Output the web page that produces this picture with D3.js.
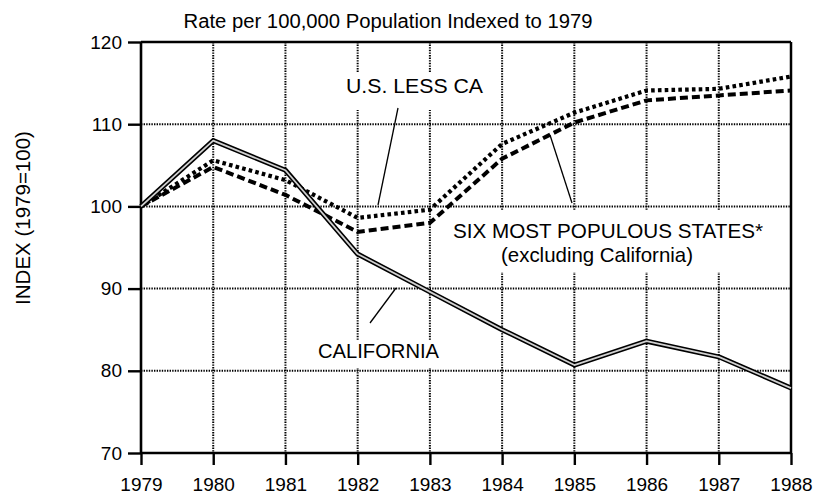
<!DOCTYPE html>
<html>
<head>
<meta charset="utf-8">
<script src="https://cdn.jsdelivr.net/npm/d3@7"></script>
<style>
  html, body { margin: 0; padding: 0; background: #fff; }
  svg { display: block; font-family: "Liberation Sans", Arial, Helvetica, sans-serif; }
</style>
</head>
<body>
<svg id="chart" width="817" height="494"></svg>
<script>
// ---- data ----
const years = [1979, 1980, 1981, 1982, 1983, 1984, 1985, 1986, 1987, 1988];
const california = [100, 108.0, 104.4, 94.2, 89.6, 85.0, 80.7, 83.6, 81.7, 77.9];
const usLessCA = [100, 105.6, 103.2, 98.6, 99.6, 107.6, 111.4, 114.1, 114.3, 115.8];
const sixStates = [100, 104.8, 101.4, 96.9, 98.0, 105.8, 110.2, 112.9, 113.5, 114.1];
const yTicks = [70, 80, 90, 100, 110, 120];
const titleText = "Rate per 100,000 Population Indexed to 1979";
const yTitleText = "INDEX (1979=100)";

(function () {
const svg = d3.select("#chart");
const pL = 141, pR = 791, pT = 42, pB = 453;
const x = d3.scaleLinear().domain([1979, 1988]).range([pL, pR]);
const y = d3.scaleLinear().domain([70, 120]).range([pB, pT]);

// grid
const grid = svg.append("g").attr("stroke", "#000").attr("stroke-width", 2)
  .attr("stroke-dasharray", "1.4,1.2");
grid.selectAll("line.v").data(years.slice(1, -1)).join("line").attr("class", "v")
  .attr("x1", d => x(d)).attr("x2", d => x(d)).attr("y1", pT).attr("y2", pB);
grid.selectAll("line.h").data(yTicks.slice(1, -1)).join("line").attr("class", "h")
  .attr("x1", pL).attr("x2", pR).attr("y1", d => y(d)).attr("y2", d => y(d));

// white boxes behind labels (interrupt grid)
const boxes = [
  [340, 72, 150, 38],
  [440, 210, 335, 62],
  [312, 340, 133, 28]
];
svg.append("g").selectAll("rect").data(boxes).join("rect")
  .attr("x", d => d[0]).attr("y", d => d[1]).attr("width", d => d[2]).attr("height", d => d[3])
  .attr("fill", "#fff");

// frame
const frame = svg.append("g").attr("stroke", "#000").attr("fill", "none");
frame.append("line").attr("x1", pL).attr("x2", pR).attr("y1", pT).attr("y2", pT).attr("stroke-width", 2.5);
frame.append("line").attr("x1", pR).attr("x2", pR).attr("y1", pT).attr("y2", pB).attr("stroke-width", 2.5);

// axes
const yAxis = d3.axisLeft(y).tickValues(yTicks).tickSize(13).tickPadding(6).tickFormat(d3.format("d"));
const gy = svg.append("g").attr("transform", `translate(${pL},0)`).call(yAxis);
const xAxis = d3.axisBottom(x).tickValues(years).tickSize(12).tickPadding(13).tickFormat(d3.format("d"));
const gx = svg.append("g").attr("transform", `translate(0,${pB})`).call(xAxis);
[gx, gy].forEach(g => {
  g.select(".domain").attr("stroke", "#000").attr("stroke-width", 2.6);
  g.selectAll(".tick line").attr("stroke", "#000").attr("stroke-width", 2.4);
  g.selectAll(".tick text").attr("fill", "#000").attr("font-size", 19)
    .attr("font-family", "'Liberation Sans', Arial, Helvetica, sans-serif");
});
gx.select(".domain").attr("d", `M${pL},0H${pR}`);
gy.select(".domain").attr("d", `M0,${pT}V${pB}`);

// lines
const line = d3.line().x((d, i) => x(years[i])).y(d => y(d));
svg.append("path").datum(sixStates).attr("d", line)
  .attr("fill", "none").attr("stroke", "#000").attr("stroke-width", 4)
  .attr("stroke-dasharray", "8,4");
svg.append("path").datum(usLessCA).attr("d", line)
  .attr("fill", "none").attr("stroke", "#000").attr("stroke-width", 4.2)
  .attr("stroke-dasharray", "3.6,3.2");
svg.append("path").datum(california).attr("d", line)
  .attr("fill", "none").attr("stroke", "#000").attr("stroke-width", 5).attr("stroke-linejoin", "round");
svg.append("path").datum(california).attr("d", line)
  .attr("fill", "none").attr("stroke", "#d0d0d0").attr("stroke-width", 1.8).attr("stroke-linejoin", "round");

// leader lines
const leaders = [
  [398, 108, 378, 205],
  [550, 135, 572, 203],
  [396, 288, 370, 323]
];
svg.append("g").selectAll("line").data(leaders).join("line")
  .attr("x1", d => d[0]).attr("y1", d => d[1]).attr("x2", d => d[2]).attr("y2", d => d[3])
  .attr("stroke", "#000").attr("stroke-width", 1.3);

// labels
const labels = [
  { t: "U.S. LESS CA", x: 346, y: 93, len: 137 },
  { t: "SIX MOST POPULOUS STATES*", x: 453, y: 238, len: 310 },
  { t: "(excluding California)", x: 501, y: 262, len: 192 },
  { t: "CALIFORNIA", x: 318, y: 358, len: 121 }
];
svg.append("g").selectAll("text").data(labels).join("text")
  .attr("x", d => d.x).attr("y", d => d.y).attr("font-size", 20.3)
  .attr("textLength", d => d.len).attr("lengthAdjust", "spacingAndGlyphs")
  .attr("fill", "#000").text(d => d.t);

// title
svg.append("text").attr("x", 388).attr("y", 28).attr("text-anchor", "middle")
  .attr("font-size", 19.5).attr("textLength", 409).attr("lengthAdjust", "spacingAndGlyphs")
  .attr("fill", "#000").text(titleText);

// y-axis title
svg.append("text").attr("transform", "translate(30,218) rotate(-90)")
  .attr("text-anchor", "middle").attr("font-size", 20.5).attr("fill", "#000")
  .text(yTitleText);
})();
</script>
</body>
</html>
